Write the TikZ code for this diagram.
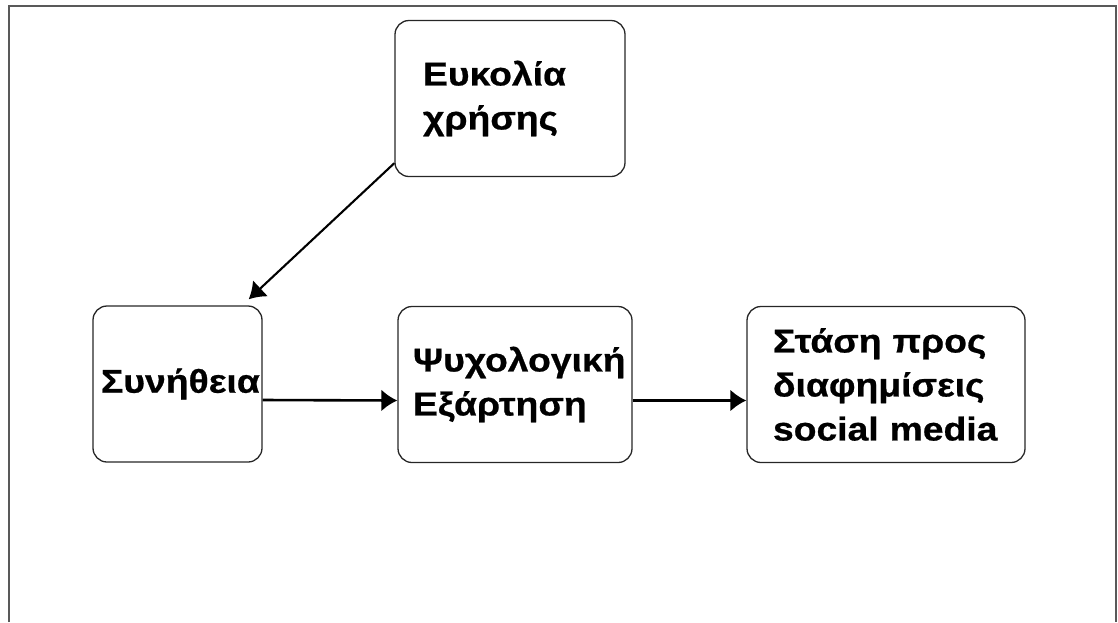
\documentclass[tikz,border=0pt]{standalone}
\usepackage{fontspec}
\setmainfont{Liberation Sans}[FakeStretch=1.13,BoldFeatures={FakeBold=0.7}]
\usetikzlibrary{arrows.meta}
\tikzset{stage/.style={draw=black!85,line width=1.3pt,rounded corners=14pt,align=left,
  inner ysep=0pt,minimum height=156pt,font=\fontsize{33}{44}\selectfont\bfseries},
  link/.style={line width=2.6pt,-{Latex[length=16pt,width=22pt]}}}
\begin{document}
\begin{tikzpicture}[x=1pt,y=-1pt]
\useasboundingbox (0,0) rectangle (1118,622);
\draw[black!65,line width=2pt] (9,622) -- (9,6) -- (1116,6) -- (1116,622);
\node[stage,inner xsep=28pt,text width=174pt] (ease) at (510,98.5) {Ευκολία\\χρήσης};
\node[stage,inner xsep=8pt,text width=153pt] (habit) at (177.5,384) {Συνήθεια};
\node[stage,inner xsep=15pt,text width=204pt] (depend) at (515,384.5) {Ψυχολογική\\Εξάρτηση};
\node[stage,inner xsep=26pt,text width=226pt] (attitude) at (886,384.5) {Στάση προς\\διαφημίσεις\\social media};
\coordinate (tip) at ([xshift=-14pt,yshift=6pt]habit.north east);
\draw[link,line width=2.1pt] ([yshift=14pt]ease.south west) -- (tip);
\draw[link] ([yshift=-16pt]habit.east) -- ([yshift=-16pt]depend.west);
\draw[link] ([yshift=-16pt]depend.east) -- ([yshift=-16pt]attitude.west);
\end{tikzpicture}
\end{document}
